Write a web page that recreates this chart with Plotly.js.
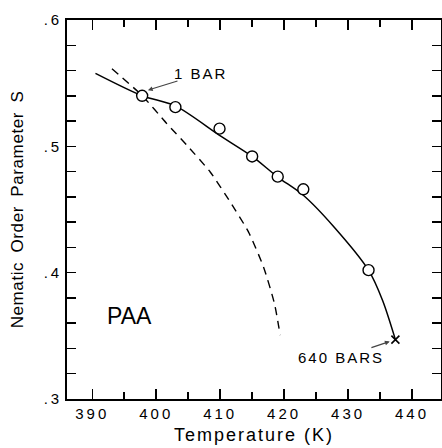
<!DOCTYPE html>
<html><head><meta charset="utf-8">
<script src="https://cdn.plot.ly/plotly-3.0.1.min.js"></script>
<style>
html,body{margin:0;padding:0;background:#fff}
.xtick text, .ytick text {letter-spacing: 3px;}
.xtitle {letter-spacing: 2px;}
.ytitle {letter-spacing: 0.6px; word-spacing: 4px;}
.annotation[data-index="0"] text, .annotation[data-index="1"] text {letter-spacing: 2px;}
</style>
</head><body>
<div id="chart" style="width:442px;height:448px"></div>
<script>
// Measured points (open circles)
const pointsT = [397.8, 403.0, 409.9, 415.0, 419.0, 423.0, 433.2];
const pointsS = [0.540, 0.531, 0.514, 0.492, 0.476, 0.466, 0.402];
// Solid fitted curve
const solidT = [390.5, 397.8, 403.0, 409.9, 415.0, 419.0, 423.0, 427.8, 433.2, 435.4, 437.4];
const solidS = [0.5577, 0.540, 0.532, 0.5087, 0.492, 0.4757, 0.4613, 0.4362, 0.402, 0.378, 0.347];
// Dashed curve
const dashT = [393.08, 397.77, 401.67, 404.80, 408.44, 411.56, 414.42, 416.77, 418.48, 419.38];
const dashS = [0.5614, 0.5403, 0.5179, 0.5008, 0.4797, 0.4560, 0.4323, 0.4046, 0.3757, 0.3506];
// 640 bar end point
const endT = [437.4];
const endS = [0.347];
const yTickVals = [0.3, 0.4, 0.5, 0.6];
const yTickText = ['.3', '.4', '.5', '.6'];
const xTickVals = [390, 400, 410, 420, 430, 440];

const font = 'Liberation Sans, Arial, sans-serif';
const traces = [
  {x: solidT, y: solidS, mode: 'lines', line: {color: '#000', width: 1.5, shape: 'spline', smoothing: 0.8}, hoverinfo: 'skip'},
  {x: dashT, y: dashS, mode: 'lines', line: {color: '#000', width: 1.4, dash: '8px,6px', shape: 'spline', smoothing: 0.6}, hoverinfo: 'skip'},
  {x: pointsT, y: pointsS, mode: 'markers', marker: {symbol: 'circle', size: 11, color: '#fff', line: {color: '#000', width: 1.4}}},
  {x: endT, y: endS, mode: 'markers', marker: {symbol: 'x-thin-open', size: 8, color: '#000', line: {color: '#000', width: 1.6}}}
];
const layout = {
  width: 442, height: 448,
  margin: {l: 66.7, r: 1, t: 19.5, b: 49},
  paper_bgcolor: '#fff', plot_bgcolor: '#fff',
  showlegend: false,
  font: {family: font, color: '#000'},
  xaxis: {
    range: [386.05, 444.53], showgrid: false, zeroline: false,
    showline: true, linecolor: '#000', linewidth: 1.8, mirror: 'ticks',
    ticks: 'inside', ticklen: 10, tickwidth: 1.5, tickcolor: '#000',
    tickvals: xTickVals, tickfont: {size: 15, family: font},
    minor: {dtick: 5, ticks: 'inside', ticklen: 7, tickwidth: 1.5, tickcolor: '#000', showgrid: false},
    title: {text: 'Temperature (K)', font: {size: 18, family: font}, standoff: 8}
  },
  yaxis: {
    range: [0.3, 0.6], showgrid: false, zeroline: false,
    showline: true, linecolor: '#000', linewidth: 1.8, mirror: 'ticks',
    ticks: 'inside', ticklen: 9, tickwidth: 1.5, tickcolor: '#000',
    tickvals: yTickVals, ticktext: yTickText, tickfont: {size: 15, family: font},
    minor: {dtick: 0.02, ticks: 'inside', ticklen: 9, tickwidth: 1.5, tickcolor: '#000', showgrid: false},
    title: {text: 'Nematic Order Parameter S', font: {size: 17, family: font}, standoff: 16}
  },
  annotations: [
    {x: 398.4, y: 0.544, xref: 'x', yref: 'y', text: '1 BAR', showarrow: true, arrowhead: 2, arrowsize: 0.8, arrowwidth: 1.2,
     ax: 55, ay: -17, font: {size: 15, family: font}, standoff: 2},
    {x: 437.4, y: 0.347, xref: 'x', yref: 'y', text: '640 BARS', showarrow: true, arrowhead: 2, arrowsize: 0.8, arrowwidth: 1.2,
     ax: -54, ay: 18, font: {size: 15, family: font}, standoff: 6},
    {x: 395.9, y: 0.3656, xref: 'x', yref: 'y', text: 'PAA', showarrow: false, font: {size: 23, family: font}}
  ]
};
Plotly.newPlot('chart', traces, layout, {staticPlot: true, displayModeBar: false});
</script>
</body></html>
